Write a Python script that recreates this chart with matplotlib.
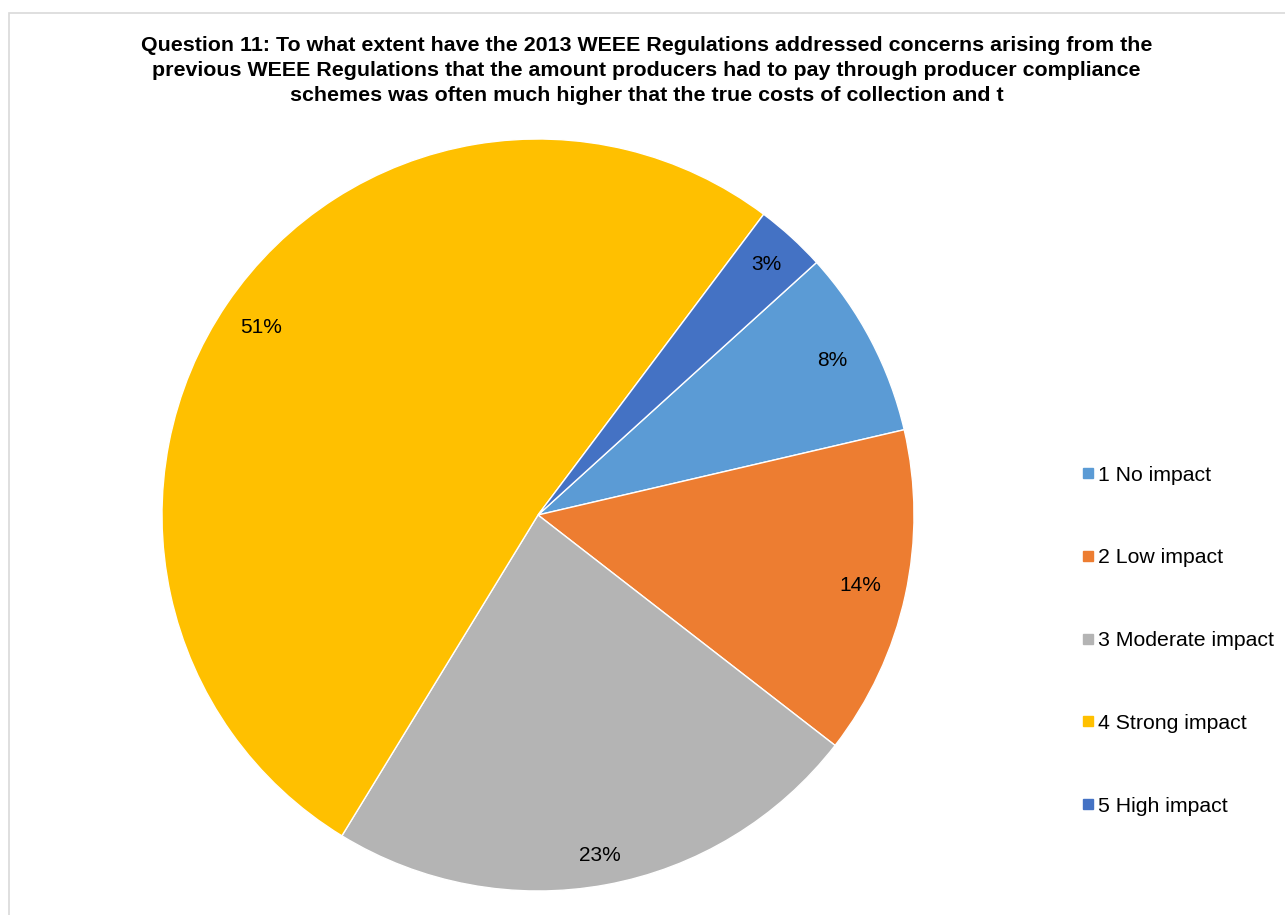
import numpy as np
import matplotlib.pyplot as plt
from matplotlib.lines import Line2D
from matplotlib.patches import Rectangle

plt.rcParams['font.family'] = ['Liberation Sans', 'DejaVu Sans']

labels = ['1 No impact', '2 Low impact', '3 Moderate impact', '4 Strong impact', '5 High impact']
shares = [8, 14, 23, 51, 3]
colors = ['#5B9BD5', '#ED7D31', '#B4B4B4', '#FFC000', '#4472C4']
# radial position of each percentage label (fraction of radius)
label_dist = [0.885, 0.878, 0.92, 0.89, 0.90]

title = ('Question 11: To what extent have the 2013 WEEE Regulations addressed concerns arising from the\n'
         'previous WEEE Regulations that the amount producers had to pay through producer compliance\n'
         'schemes was often much higher that the true costs of collection and t')

fig = plt.figure(figsize=(12.85, 9.15), dpi=100)

# light grey frame around the chart area
fig.patches.append(Rectangle((9 / 1285, -0.01), 1.1, 1 - 13 / 915 + 0.01,
                             transform=fig.transFigure, fill=False,
                             edgecolor='#D9D9D9', linewidth=1.2))

ax = fig.add_axes([162 / 1285, 24 / 915, 752 / 1285, 752 / 915])
wedges, texts, autotexts = ax.pie(
    shares, colors=colors, startangle=42.2, counterclock=False,
    autopct='%d%%', pctdistance=1.0, radius=1,
    wedgeprops=dict(edgecolor='white', linewidth=1),
    textprops=dict(fontsize=15, color='black'))
for t, d in zip(autotexts, label_dist):
    x, y = t.get_position()
    t.set_position((x * d, y * d))
ax.set_xlim(-1, 1)
ax.set_ylim(-1, 1)
ax.set_aspect('equal')

fig.text(0.503, 1 - 70.5 / 915, title, ha='center', va='center',
         fontsize=15.4, fontweight='bold', linespacing=1.42)

handles = [Line2D([], [], marker='s', linestyle='', markersize=7, color=c) for c in colors]
fig.legend(handles, labels, loc='upper left', bbox_to_anchor=(1071 / 1285, 1 - 455 / 915),
           frameon=False, fontsize=15.3, labelspacing=3.0, handlelength=0.6,
           handletextpad=0.15, borderpad=0)

plt.savefig('out.png', dpi=100)
